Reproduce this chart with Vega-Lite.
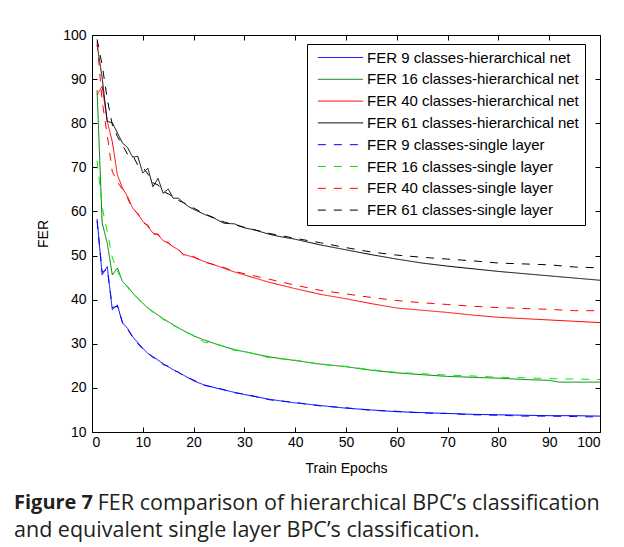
{
  "$schema": "https://vega.github.io/schema/vega-lite/v6.json",
  "width": 508,
  "height": 397,
  "autosize": {"type": "none"},
  "padding": {"left": 92, "top": 35, "right": 24, "bottom": 115},
  "background": "white",
  "config": {
    "view": {"stroke": "black", "strokeWidth": 1},
    "axis": {
      "labelFont": "Liberation Sans",
      "labelFontSize": 14,
      "labelColor": "black",
      "titleFont": "Liberation Sans",
      "titleFontSize": 14,
      "titleFontWeight": "normal",
      "titleColor": "black",
      "domain": false,
      "grid": false,
      "tickColor": "black",
      "tickSize": -5,
      "tickWidth": 1
    },
    "legend": {
      "orient": "none",
      "legendX": 215,
      "legendY": 9,
      "title": null,
      "strokeColor": "black",
      "fillColor": "white",
      "padding": 6,
      "symbolType": "M-4,0H4",
      "symbolSize": 128,
      "symbolStrokeWidth": 1,
      "symbolOffset": 20,
      "labelFont": "Liberation Sans",
      "labelFontSize": 15,
      "labelColor": "black",
      "labelLimit": 400,
      "labelOffset": 19,
      "rowPadding": 5.8
    }
  },
  "title": {
    "text": "Figure 7",
    "subtitle": [
      "\u200b\u00a0\u00a0\u00a0\u00a0\u00a0\u00a0\u00a0\u00a0\u00a0\u00a0\u00a0\u00a0\u00a0\u00a0\u00a0FER comparison of hierarchical BPC’s classification",
      "and equivalent single layer BPC’s classification."
    ],
    "orient": "bottom",
    "anchor": "start",
    "frame": "group",
    "dx": -78,
    "offset": 18,
    "font": "Open Sans",
    "fontSize": 20,
    "fontWeight": "bold",
    "color": "#231f20",
    "subtitleFont": "Open Sans",
    "subtitleFontSize": 21.5,
    "subtitleFontWeight": "normal",
    "subtitleColor": "#231f20",
    "subtitlePadding": -20.5,
    "subtitleLineHeight": 27
  },
  "data": {
    "values": [
      {"s":"h9","x":1,"y":58.3},{"s":"h9","x":2,"y":45.6},{"s":"h9","x":3,"y":47.5},{"s":"h9","x":4,"y":37.7},{"s":"h9","x":5,"y":38.8},{"s":"h9","x":6,"y":34.7},{"s":"h9","x":7,"y":33.5},{"s":"h9","x":8,"y":31.6},{"s":"h9","x":9,"y":30.3},{"s":"h9","x":10,"y":29.0},{"s":"h9","x":11,"y":27.8},{"s":"h9","x":12,"y":27.1},{"s":"h9","x":13,"y":26.3},{"s":"h9","x":14,"y":25.5},{"s":"h9","x":15,"y":24.8},{"s":"h9","x":16,"y":24.1},{"s":"h9","x":17,"y":23.5},{"s":"h9","x":18,"y":22.9},{"s":"h9","x":20,"y":21.6},{"s":"h9","x":22,"y":20.7},{"s":"h9","x":25,"y":19.8},{"s":"h9","x":28,"y":19.0},{"s":"h9","x":30,"y":18.5},{"s":"h9","x":35,"y":17.4},{"s":"h9","x":40,"y":16.6},{"s":"h9","x":45,"y":16.0},{"s":"h9","x":50,"y":15.4},{"s":"h9","x":55,"y":15.0},{"s":"h9","x":60,"y":14.6},{"s":"h9","x":65,"y":14.4},{"s":"h9","x":70,"y":14.2},{"s":"h9","x":75,"y":14.0},{"s":"h9","x":80,"y":13.9},{"s":"h9","x":85,"y":13.8},{"s":"h9","x":90,"y":13.7},{"s":"h9","x":95,"y":13.7},{"s":"h9","x":100,"y":13.6},
      {"s":"h16","x":1,"y":87.5},{"s":"h16","x":2,"y":57.4},{"s":"h16","x":3,"y":52.8},{"s":"h16","x":4,"y":45.6},{"s":"h16","x":5,"y":47.2},{"s":"h16","x":6,"y":44.1},{"s":"h16","x":7,"y":43.0},{"s":"h16","x":8,"y":41.5},{"s":"h16","x":9,"y":40.3},{"s":"h16","x":10,"y":39.2},{"s":"h16","x":11,"y":38.1},{"s":"h16","x":12,"y":37.3},{"s":"h16","x":13,"y":36.5},{"s":"h16","x":14,"y":35.7},{"s":"h16","x":15,"y":35.0},{"s":"h16","x":16,"y":34.3},{"s":"h16","x":17,"y":33.6},{"s":"h16","x":18,"y":33.0},{"s":"h16","x":20,"y":31.8},{"s":"h16","x":22,"y":30.9},{"s":"h16","x":25,"y":29.7},{"s":"h16","x":28,"y":28.7},{"s":"h16","x":30,"y":28.2},{"s":"h16","x":35,"y":27.0},{"s":"h16","x":40,"y":26.2},{"s":"h16","x":45,"y":25.4},{"s":"h16","x":50,"y":24.8},{"s":"h16","x":55,"y":24.0},{"s":"h16","x":60,"y":23.4},{"s":"h16","x":65,"y":23.0},{"s":"h16","x":70,"y":22.6},{"s":"h16","x":75,"y":22.4},{"s":"h16","x":80,"y":22.2},{"s":"h16","x":85,"y":21.9},{"s":"h16","x":90,"y":21.7},{"s":"h16","x":92,"y":21.3},{"s":"h16","x":95,"y":21.3},{"s":"h16","x":100,"y":21.3},
      {"s":"h40","x":1,"y":86.4},{"s":"h40","x":2,"y":88.4},{"s":"h40","x":3,"y":80.4},{"s":"h40","x":4,"y":75.8},{"s":"h40","x":5,"y":68.3},{"s":"h40","x":6,"y":65.3},{"s":"h40","x":7,"y":63.4},{"s":"h40","x":8,"y":60.8},{"s":"h40","x":9,"y":59.4},{"s":"h40","x":10,"y":57.8},{"s":"h40","x":11,"y":56.6},{"s":"h40","x":12,"y":55.1},{"s":"h40","x":13,"y":54.7},{"s":"h40","x":14,"y":53.4},{"s":"h40","x":15,"y":52.8},{"s":"h40","x":16,"y":52.0},{"s":"h40","x":17,"y":51.3},{"s":"h40","x":18,"y":50.3},{"s":"h40","x":20,"y":49.6},{"s":"h40","x":22,"y":48.7},{"s":"h40","x":25,"y":47.5},{"s":"h40","x":28,"y":46.3},{"s":"h40","x":30,"y":45.6},{"s":"h40","x":35,"y":43.9},{"s":"h40","x":40,"y":42.5},{"s":"h40","x":45,"y":41.2},{"s":"h40","x":50,"y":40.2},{"s":"h40","x":55,"y":39.1},{"s":"h40","x":60,"y":38.1},{"s":"h40","x":65,"y":37.6},{"s":"h40","x":70,"y":37.1},{"s":"h40","x":75,"y":36.5},{"s":"h40","x":80,"y":36.0},{"s":"h40","x":85,"y":35.7},{"s":"h40","x":90,"y":35.4},{"s":"h40","x":95,"y":35.1},{"s":"h40","x":100,"y":34.8},
      {"s":"h61","x":1,"y":97.8},{"s":"h61","x":2,"y":90.3},{"s":"h61","x":3,"y":80.4},{"s":"h61","x":4,"y":80.1},{"s":"h61","x":5,"y":77.8},{"s":"h61","x":6,"y":75.5},{"s":"h61","x":7,"y":74.5},{"s":"h61","x":8,"y":72.3},{"s":"h61","x":9,"y":72.5},{"s":"h61","x":10,"y":68.7},{"s":"h61","x":11,"y":69.8},{"s":"h61","x":12,"y":65.6},{"s":"h61","x":13,"y":67.5},{"s":"h61","x":14,"y":64.1},{"s":"h61","x":15,"y":65.1},{"s":"h61","x":16,"y":63.0},{"s":"h61","x":17,"y":63.0},{"s":"h61","x":18,"y":62.0},{"s":"h61","x":19,"y":61.1},{"s":"h61","x":20,"y":60.5},{"s":"h61","x":22,"y":59.4},{"s":"h61","x":24,"y":58.5},{"s":"h61","x":26,"y":57.3},{"s":"h61","x":28,"y":57.2},{"s":"h61","x":30,"y":56.3},{"s":"h61","x":32,"y":55.8},{"s":"h61","x":35,"y":54.8},{"s":"h61","x":37,"y":54.3},{"s":"h61","x":40,"y":53.7},{"s":"h61","x":45,"y":52.4},{"s":"h61","x":50,"y":51.3},{"s":"h61","x":55,"y":50.2},{"s":"h61","x":60,"y":49.2},{"s":"h61","x":65,"y":48.3},{"s":"h61","x":70,"y":47.6},{"s":"h61","x":75,"y":47.0},{"s":"h61","x":80,"y":46.4},{"s":"h61","x":85,"y":45.9},{"s":"h61","x":90,"y":45.4},{"s":"h61","x":95,"y":44.9},{"s":"h61","x":100,"y":44.4},
      {"s":"s9","x":1,"y":57.8},{"s":"s9","x":2,"y":46.2},{"s":"s9","x":3,"y":47.0},{"s":"s9","x":4,"y":38.2},{"s":"s9","x":5,"y":38.5},{"s":"s9","x":6,"y":34.9},{"s":"s9","x":7,"y":33.3},{"s":"s9","x":8,"y":31.5},{"s":"s9","x":9,"y":30.0},{"s":"s9","x":10,"y":28.8},{"s":"s9","x":11,"y":27.9},{"s":"s9","x":12,"y":26.9},{"s":"s9","x":13,"y":26.4},{"s":"s9","x":14,"y":25.3},{"s":"s9","x":15,"y":24.9},{"s":"s9","x":16,"y":24.0},{"s":"s9","x":17,"y":23.6},{"s":"s9","x":18,"y":22.7},{"s":"s9","x":20,"y":21.8},{"s":"s9","x":22,"y":20.6},{"s":"s9","x":25,"y":19.9},{"s":"s9","x":28,"y":18.9},{"s":"s9","x":30,"y":18.6},{"s":"s9","x":35,"y":17.3},{"s":"s9","x":40,"y":16.7},{"s":"s9","x":45,"y":15.9},{"s":"s9","x":50,"y":15.5},{"s":"s9","x":55,"y":14.9},{"s":"s9","x":60,"y":14.7},{"s":"s9","x":65,"y":14.3},{"s":"s9","x":70,"y":14.2},{"s":"s9","x":75,"y":13.9},{"s":"s9","x":80,"y":13.8},{"s":"s9","x":85,"y":13.6},{"s":"s9","x":90,"y":13.6},{"s":"s9","x":95,"y":13.5},{"s":"s9","x":100,"y":13.4},
      {"s":"s16","x":1,"y":71.5},{"s":"s16","x":2,"y":61.0},{"s":"s16","x":3,"y":55.5},{"s":"s16","x":4,"y":49.5},{"s":"s16","x":5,"y":46.5},{"s":"s16","x":6,"y":44.3},{"s":"s16","x":7,"y":42.8},{"s":"s16","x":8,"y":41.3},{"s":"s16","x":9,"y":40.4},{"s":"s16","x":10,"y":39.0},{"s":"s16","x":11,"y":38.2},{"s":"s16","x":12,"y":37.1},{"s":"s16","x":13,"y":36.6},{"s":"s16","x":14,"y":35.5},{"s":"s16","x":15,"y":35.1},{"s":"s16","x":16,"y":34.1},{"s":"s16","x":17,"y":33.7},{"s":"s16","x":18,"y":32.8},{"s":"s16","x":20,"y":31.9},{"s":"s16","x":22,"y":30.4},{"s":"s16","x":25,"y":29.8},{"s":"s16","x":28,"y":28.5},{"s":"s16","x":30,"y":28.3},{"s":"s16","x":35,"y":26.8},{"s":"s16","x":40,"y":26.3},{"s":"s16","x":45,"y":25.3},{"s":"s16","x":50,"y":24.9},{"s":"s16","x":55,"y":24.1},{"s":"s16","x":60,"y":23.5},{"s":"s16","x":65,"y":23.2},{"s":"s16","x":70,"y":22.9},{"s":"s16","x":75,"y":22.7},{"s":"s16","x":80,"y":22.4},{"s":"s16","x":85,"y":22.3},{"s":"s16","x":90,"y":22.1},{"s":"s16","x":95,"y":22.0},{"s":"s16","x":100,"y":21.9},
      {"s":"s40","x":1,"y":98.5},{"s":"s40","x":2,"y":85.0},{"s":"s40","x":3,"y":77.3},{"s":"s40","x":4,"y":69.0},{"s":"s40","x":5,"y":66.7},{"s":"s40","x":6,"y":65.0},{"s":"s40","x":7,"y":63.0},{"s":"s40","x":8,"y":60.5},{"s":"s40","x":9,"y":59.6},{"s":"s40","x":10,"y":57.5},{"s":"s40","x":11,"y":56.9},{"s":"s40","x":12,"y":54.8},{"s":"s40","x":13,"y":54.9},{"s":"s40","x":14,"y":53.2},{"s":"s40","x":15,"y":53.0},{"s":"s40","x":16,"y":51.8},{"s":"s40","x":17,"y":51.5},{"s":"s40","x":18,"y":50.1},{"s":"s40","x":20,"y":49.8},{"s":"s40","x":22,"y":48.5},{"s":"s40","x":25,"y":47.7},{"s":"s40","x":28,"y":46.4},{"s":"s40","x":30,"y":45.9},{"s":"s40","x":35,"y":44.6},{"s":"s40","x":40,"y":43.3},{"s":"s40","x":45,"y":42.1},{"s":"s40","x":50,"y":41.3},{"s":"s40","x":55,"y":40.5},{"s":"s40","x":60,"y":39.8},{"s":"s40","x":65,"y":39.3},{"s":"s40","x":70,"y":38.9},{"s":"s40","x":75,"y":38.5},{"s":"s40","x":80,"y":38.2},{"s":"s40","x":85,"y":38.0},{"s":"s40","x":90,"y":37.8},{"s":"s40","x":95,"y":37.5},{"s":"s40","x":100,"y":37.5},
      {"s":"s61","x":1,"y":99.0},{"s":"s61","x":2,"y":93.2},{"s":"s61","x":3,"y":85.5},{"s":"s61","x":4,"y":79.6},{"s":"s61","x":5,"y":77.0},{"s":"s61","x":6,"y":75.0},{"s":"s61","x":7,"y":73.0},{"s":"s61","x":8,"y":72.8},{"s":"s61","x":9,"y":70.5},{"s":"s61","x":10,"y":70.0},{"s":"s61","x":11,"y":68.5},{"s":"s61","x":12,"y":66.5},{"s":"s61","x":13,"y":66.0},{"s":"s61","x":14,"y":64.5},{"s":"s61","x":15,"y":64.0},{"s":"s61","x":16,"y":63.3},{"s":"s61","x":17,"y":62.5},{"s":"s61","x":18,"y":62.0},{"s":"s61","x":20,"y":60.8},{"s":"s61","x":22,"y":59.5},{"s":"s61","x":24,"y":58.6},{"s":"s61","x":26,"y":57.6},{"s":"s61","x":28,"y":57.0},{"s":"s61","x":30,"y":56.4},{"s":"s61","x":35,"y":55.0},{"s":"s61","x":40,"y":53.9},{"s":"s61","x":45,"y":52.9},{"s":"s61","x":50,"y":51.8},{"s":"s61","x":55,"y":50.8},{"s":"s61","x":60,"y":50.1},{"s":"s61","x":65,"y":49.6},{"s":"s61","x":70,"y":49.2},{"s":"s61","x":75,"y":48.8},{"s":"s61","x":80,"y":48.3},{"s":"s61","x":85,"y":48.1},{"s":"s61","x":90,"y":47.9},{"s":"s61","x":95,"y":47.4},{"s":"s61","x":100,"y":47.2}
    ]
  },
  "layer": [
    {
      "mark": {"type": "line", "strokeWidth": 1, "clip": true},
      "encoding": {
        "x": {
          "field": "x", "type": "quantitative",
          "scale": {"domain": [0, 100], "nice": false},
          "axis": {"orient": "bottom", "title": "Train Epochs", "values": [0,10,20,30,40,50,60,70,80,90,100], "labelPadding": 8, "titlePadding": 12}
        },
        "y": {
          "field": "y", "type": "quantitative",
          "scale": {"domain": [10, 100], "nice": false, "zero": false},
          "axis": {"orient": "left", "title": "FER", "values": [10,20,30,40,50,60,70,80,90,100], "labelPadding": 11, "titlePadding": 12}
        },
        "color": {
          "field": "s", "type": "nominal",
          "scale": {
            "domain": ["h9","h16","h40","h61","s9","s16","s40","s61"],
            "range": ["#0000ff","#008000","#ff0000","#000000","#0000ff","#00ee00","#ff0000","#000000"]
          },
          "legend": {
            "labelExpr": "{'h9':'FER 9 classes-hierarchical net','h16':'FER 16 classes-hierarchical net','h40':'FER 40 classes-hierarchical net','h61':'FER 61 classes-hierarchical net','s9':'FER 9 classes-single layer','s16':'FER 16 classes-single layer','s40':'FER 40 classes-single layer','s61':'FER 61 classes-single layer'}[datum.label]",
            "encode": {"symbols": {"update": {"stroke": {"scale": "color", "field": "value"}, "fill": {"value": "transparent"}}}}
          }
        },
        "strokeDash": {
          "field": "s", "type": "nominal",
          "scale": {
            "domain": ["h9","h16","h40","h61","s9","s16","s40","s61"],
            "range": [[1,0],[1,0],[1,0],[1,0],[8,8],[8,8],[8,8],[8,8]]
          },
          "legend": {
            "labelExpr": "{'h9':'FER 9 classes-hierarchical net','h16':'FER 16 classes-hierarchical net','h40':'FER 40 classes-hierarchical net','h61':'FER 61 classes-hierarchical net','s9':'FER 9 classes-single layer','s16':'FER 16 classes-single layer','s40':'FER 40 classes-single layer','s61':'FER 61 classes-single layer'}[datum.label]",
            "encode": {"symbols": {"update": {"stroke": {"scale": "color", "field": "value"}, "fill": {"value": "transparent"}}}}
          }
        }
      }
    },
    {
      "mark": {"type": "point", "opacity": 0},
      "encoding": {
        "x": {
          "field": "x", "type": "quantitative",
          "axis": {"orient": "top", "title": null, "labels": false, "values": [0,10,20,30,40,50,60,70,80,90,100]}
        },
        "y": {
          "field": "y", "type": "quantitative",
          "axis": {"orient": "right", "title": null, "labels": false, "values": [10,20,30,40,50,60,70,80,90,100]}
        }
      }
    }
  ],
  "resolve": {"axis": {"x": "independent", "y": "independent"}}
}
